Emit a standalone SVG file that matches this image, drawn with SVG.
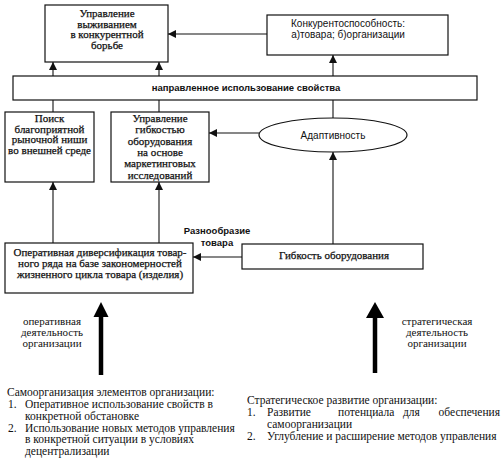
<svg xmlns="http://www.w3.org/2000/svg" width="503" height="471" viewBox="0 0 503 471">
<style>
.box{fill:#fff;stroke:#111;stroke-width:1.2}
.ser{font-family:"Liberation Serif","Times New Roman",serif;font-size:11px;fill:#111}
.serb{font-family:"Liberation Serif","Times New Roman",serif;font-size:11px;fill:#111;stroke:#111;stroke-width:0.25}
.sans{font-family:"Liberation Sans",Arial,sans-serif;font-size:10px;fill:#111}
.sansb{font-family:"Liberation Sans",Arial,sans-serif;font-size:9.5px;font-weight:bold;fill:#111}
.c{text-anchor:middle}
.ln{stroke:#111;stroke-width:1.1;fill:none}
.thick{stroke:#000;stroke-width:4.5;fill:none}
.body{font-family:"Liberation Serif","Times New Roman",serif;font-size:11.5px;fill:#111}
</style>
<defs>
<marker id="ah" markerUnits="userSpaceOnUse" markerWidth="8" markerHeight="8" viewBox="0 0 8 8" refX="8" refY="4" orient="auto">
<path d="M0,0 L8,4 L0,8 Z" fill="#111"/>
</marker>
</defs>
<rect width="503" height="471" fill="#fff"/>

<g id="connectors">
<line class="ln" x1="53" y1="76" x2="53" y2="62" marker-end="url(#ah)"/>
<line class="ln" x1="159" y1="76" x2="159" y2="62" marker-end="url(#ah)"/>
<line class="ln" x1="333" y1="76" x2="333" y2="55" marker-end="url(#ah)"/>
<line class="ln" x1="267" y1="34" x2="168" y2="34" marker-end="url(#ah)"/>
<line class="ln" x1="53" y1="100" x2="53" y2="112"/>
<line class="ln" x1="159" y1="100" x2="159" y2="112"/>
<line class="ln" x1="333" y1="100" x2="333" y2="118"/>
<line class="ln" x1="259" y1="133" x2="209" y2="133" marker-end="url(#ah)"/>
<line class="ln" x1="53" y1="243" x2="53" y2="182" marker-end="url(#ah)"/>
<line class="ln" x1="159" y1="243" x2="159" y2="182" marker-end="url(#ah)"/>
<line class="ln" x1="333" y1="244" x2="333" y2="152" marker-end="url(#ah)"/>
<line class="ln" x1="242" y1="257" x2="193" y2="257" marker-end="url(#ah)"/>
<line class="thick" x1="101" y1="375" x2="101" y2="314"/>
<path d="M93.5,317 L101,302 L108.5,317 Z" fill="#000"/>
<line class="thick" x1="375" y1="373" x2="375" y2="314"/>
<path d="M366,318 L375,302 L384,318 Z" fill="#000"/>
</g>

<g id="n1">
<rect class="box" x="45" y="5" width="123" height="57"/>
<text class="serb c" x="107" y="17">Управление</text>
<text class="serb c" x="107" y="27.5">выживанием</text>
<text class="serb c" x="107" y="38">в конкурентной</text>
<text class="serb c" x="107" y="48.5">борьбе</text>
</g>

<g id="n2">
<rect class="box" x="267" y="15" width="181" height="40"/>
<text class="sans c" x="348" y="27">Конкурентоспособность:</text>
<text class="sans c" x="348" y="38">а)товара; б)организации</text>
</g>

<g id="n3">
<rect class="box" x="13" y="76" width="464" height="24"/>
<text class="sansb c" x="246" y="91">направленное использование свойства</text>
</g>

<g id="n4">
<rect class="box" x="5" y="112" width="89" height="70"/>
<text class="serb c" x="49.5" y="122">Поиск</text>
<text class="serb c" x="49.5" y="132.5">благоприятной</text>
<text class="serb c" x="49.5" y="143">рыночной ниши</text>
<text class="serb c" x="49.5" y="153.5">во внешней среде</text>
</g>

<g id="n5">
<rect class="box" x="111" y="112" width="98" height="70"/>
<text class="serb c" x="160" y="122">Управление</text>
<text class="serb c" x="160" y="133.3">гибкостью</text>
<text class="serb c" x="160" y="144.6">оборудования</text>
<text class="serb c" x="160" y="155.9">на основе</text>
<text class="serb c" x="160" y="167.2">маркетинговых</text>
<text class="serb c" x="160" y="178.5">исследований</text>
</g>

<g id="n6">
<ellipse class="box" cx="333" cy="135" rx="74" ry="17"/>
<text class="sans c" x="333" y="138.5">Адаптивность</text>
</g>

<g id="n7">
<rect class="box" x="5" y="243" width="188" height="50"/>
<text class="serb c" x="100" y="256">Оперативная диверсификация товар-</text>
<text class="serb c" x="100" y="267">ного ряда на базе закономерностей</text>
<text class="serb c" x="100" y="278">жизненного цикла товара (изделия)</text>
</g>

<g id="n8">
<rect class="box" x="242" y="244" width="181" height="25"/>
<text class="serb c" x="334" y="259">Гибкость оборудования</text>
</g>

<g id="labels">
<text class="sansb c" x="217" y="234">Разнообразие</text>
<text class="sansb c" x="217" y="246">товара</text>
<text class="ser c" x="52" y="325">оперативная</text>
<text class="ser c" x="52" y="336">деятельность</text>
<text class="ser c" x="52" y="347">организации</text>
<text class="ser c" x="437" y="325">стратегическая</text>
<text class="ser c" x="437" y="336">деятельность</text>
<text class="ser c" x="437" y="347">организации</text>
</g>

<g id="notes">
<text class="body" x="7" y="396">Самоорганизация элементов организации:</text>
<text class="body" x="8" y="408">1.</text>
<text class="body" x="25" y="408">Оперативное использование свойств в</text>
<text class="body" x="25" y="419.5">конкретной обстановке</text>
<text class="body" x="8" y="431.5">2.</text>
<text class="body" x="25" y="431.5">Использование новых методов управления</text>
<text class="body" x="25" y="443">в конкретной ситуации в условиях</text>
<text class="body" x="25" y="454.5">децентрализации</text>

<text class="body" x="247" y="404">Стратегическое развитие организации:</text>
<text class="body" x="247" y="416">1.</text>
<text class="body" x="267" y="416">Развитие</text>
<text class="body" x="338" y="416">потенциала</text>
<text class="body" x="403" y="416">для</text>
<text class="body" x="500" y="416" text-anchor="end">обеспечения</text>
<text class="body" x="267" y="427.5">самоорганизации</text>
<text class="body" x="247" y="439.5">2.</text>
<text class="body" x="267" y="439.5">Углубление и расширение методов управления</text>
</g>
</svg>
